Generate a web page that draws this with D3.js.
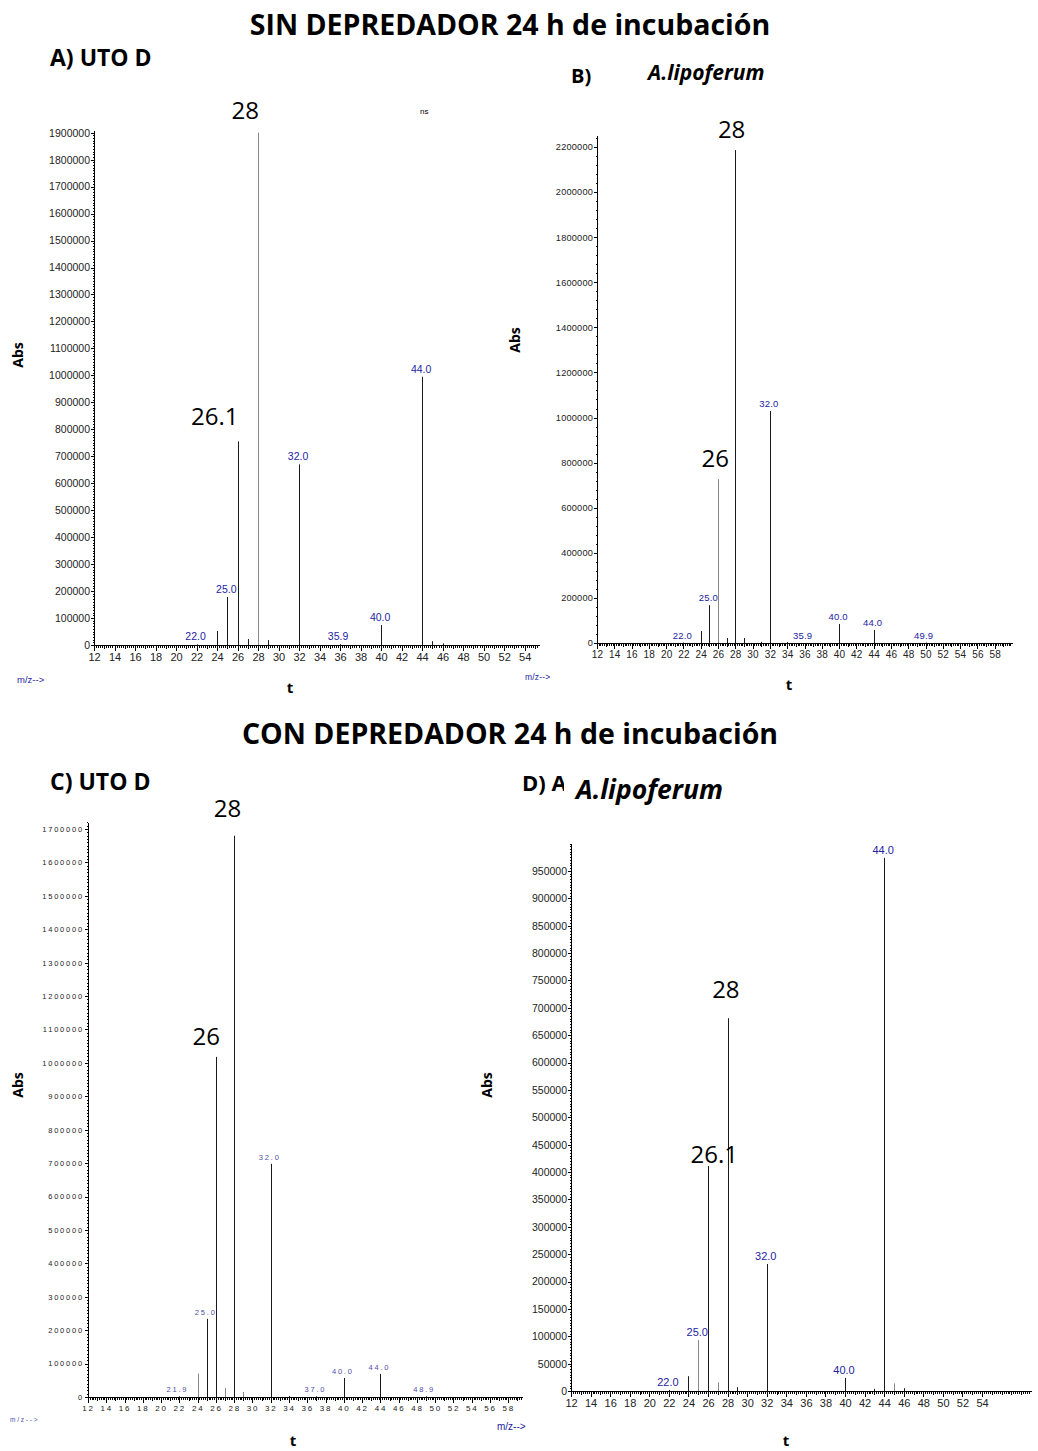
<!DOCTYPE html>
<html lang="es">
<head>
<meta charset="utf-8">
<title>Espectros de masas - 24 h de incubación</title>
<style>
  body { margin: 0; background: #fff; }
  svg { display: block; }
  .hdr { font-family: "Open Sans", sans-serif; font-weight: bold; fill: #000; }
  .big { font-family: "Open Sans", sans-serif; fill: #000; }
  .axis path, .axis line { stroke: #000; shape-rendering: crispEdges; }
</style>
</head>
<body>
<div id="chart"></div>
<script src="https://d3js.org/d3.v7.min.js"></script>
<script>
// ---- data (m/z vs abundance) ----
var mzA  = [22, 24, 25, 26, 27, 28, 29, 32, 36, 40, 44, 45, 46];
var absA = [2000, 52000, 178000, 755000, 22000, 1900000, 18000, 670000, 3000, 74000, 995000, 14000, 6000];
var lblA = ["22.0", "25.0", "32.0", "35.9", "40.0", "44.0"];

var mzB  = [22, 24, 25, 26, 27, 28, 29, 31, 32, 34, 40, 44, 50];
var absB = [2000, 53000, 168000, 727000, 22000, 2186000, 22000, 5000, 1029000, 4000, 84000, 58000, 2000];
var lblB = ["22.0", "25.0", "32.0", "35.9", "40.0", "44.0", "49.9"];

var mzC  = [22, 24, 25, 26, 27, 28, 29, 32, 34, 37, 40, 44, 49];
var absC = [2000, 70000, 234000, 1018000, 27000, 1680000, 15000, 698000, 3000, 2000, 57000, 69000, 2000];
var lblC = ["21.9", "25.0", "32.0", "37.0", "40.0", "44.0", "48.9"];

var mzD  = [22, 24, 25, 26, 27, 28, 29, 32, 40, 43, 44, 45, 46];
var absD = [2000, 27000, 93000, 411000, 16000, 681000, 7000, 232000, 24000, 4000, 974000, 14000, 5000];
var lblD = ["22.0", "25.0", "32.0", "40.0", "44.0"];

var yTicksA = d3.range(0, 1900001, 100000);
var yTicksB = d3.range(0, 2200001, 200000);
var yTicksC = d3.range(0, 1700001, 100000);
var yTicksD = d3.range(0, 950001, 50000);

var W = 1038, H = 1451;
var svg = d3.select("#chart").append("svg").attr("width", W).attr("height", H);

var blue = "#2424a2";
var arial = "Arial, 'Liberation Sans', sans-serif";

var panels = [
  { mz: mzA, ab: absA, lbl: lblA, yTicks: yTicksA, yMinor: 10000,
    xDom: [12, 55.4], xRange: [94, 539], yMax: 1910000, yRange: [645, 130],
    xLast: 54, gray: [28],
    tickFs: 10.5, xFs: 11, lblFs: 10.5, ls: 0, lblColor: blue,
    big: [{ t: "28", mz: 28, dx: 1, dy: -14 }, { t: "26.1", mz: 26, dx: 1, dy: -16 }],
    mzLbl: [17, 683] },
  { mz: mzB, ab: absB, lbl: lblB, yTicks: yTicksB, yMinor: 40000,
    xDom: [12, 60], xRange: [597, 1012], yMax: 2253000, yRange: [643, 135],
    xLast: 58, gray: [26],
    tickFs: 9.2, xFs: 10, lblFs: 9.5, ls: 0.2, lblColor: blue,
    big: [{ t: "28", mz: 28, dx: 10, dy: -12 }, { t: "26", mz: 26, dx: 11, dy: -12 }],
    mzLbl: [525, 680] },
  { mz: mzC, ab: absC, lbl: lblC, yTicks: yTicksC, yMinor: 10000,
    xDom: [12, 59.5], xRange: [88, 522], yMax: 1721000, yRange: [1397, 822],
    xLast: 58, gray: [24, 27, 29],
    tickFs: 7.5, xFs: 8, lblFs: 7.5, ls: 1.8, lblColor: "#4d4daa",
    big: [{ t: "28", mz: 28, dx: 7, dy: -19 }, { t: "26", mz: 26, dx: 4, dy: -12 }],
    mzLbl: [10, 1422] },
  { mz: mzD, ab: absD, lbl: lblD, yTicks: yTicksD, yMinor: 5000,
    xDom: [12, 59], xRange: [571, 1031], yMax: 1001000, yRange: [1391, 843],
    xLast: 54, gray: [25, 27, 45],
    tickFs: 10.5, xFs: 11, lblFs: 11, ls: 0, lblColor: blue,
    big: [{ t: "28", mz: 28, dx: 12, dy: -20 }, { t: "26.1", mz: 26, dx: 30, dy: -3 }],
    mzLbl: [497, 1430] }
];

function drawPanel(p) {
  var g = svg.append("g");
  var x = d3.scaleLinear().domain(p.xDom).range(p.xRange);
  var y = d3.scaleLinear().domain([0, p.yMax]).range(p.yRange);

  // x axis: minor, mid and labelled ticks
  var minor = d3.range(p.xDom[0], p.xDom[1], 0.2).map(function (v) { return Math.round(v * 10) / 10; });
  var mid = d3.range(p.xDom[0], p.xDom[1], 1);
  var major = d3.range(p.xDom[0], p.xLast + 1, 2);
  g.append("g").attr("class", "axis").attr("transform", "translate(0," + p.yRange[0] + ")")
    .call(d3.axisBottom(x).tickValues(minor).tickSize(2.5).tickSizeOuter(0).tickFormat(""));
  g.append("g").attr("class", "axis").attr("transform", "translate(0," + p.yRange[0] + ")")
    .call(d3.axisBottom(x).tickValues(mid).tickSize(4).tickSizeOuter(0).tickFormat(""));
  var xa = g.append("g").attr("class", "axis").attr("transform", "translate(0," + p.yRange[0] + ")")
    .call(d3.axisBottom(x).tickValues(major).tickSize(6).tickSizeOuter(0).tickPadding(2).tickFormat(d3.format("d")));
  xa.selectAll("text").attr("font-family", arial).attr("font-size", p.xFs)
    .attr("fill", "#222").style("letter-spacing", p.ls + "px");

  // y axis
  var yMinorVals = d3.range(0, p.yMax, p.yMinor);
  g.append("g").attr("class", "axis").attr("transform", "translate(" + p.xRange[0] + ",0)")
    .call(d3.axisLeft(y).tickValues(yMinorVals).tickSize(1.5).tickSizeOuter(0).tickFormat(""));
  var ya = g.append("g").attr("class", "axis").attr("transform", "translate(" + p.xRange[0] + ",0)")
    .call(d3.axisLeft(y).tickValues(p.yTicks).tickSize(3).tickSizeOuter(0).tickPadding(1).tickFormat(d3.format("d")));
  ya.selectAll("text").attr("font-family", arial).attr("font-size", p.tickFs)
    .attr("fill", "#222").style("letter-spacing", p.ls + "px");

  // peak bars
  var pts = p.mz.map(function (m, i) { return { mz: m, v: p.ab[i] }; });
  g.selectAll("line.bar").data(pts).enter().append("line")
    .attr("class", "bar")
    .attr("x1", function (d) { return Math.round(x(d.mz)) + 0.5; })
    .attr("x2", function (d) { return Math.round(x(d.mz)) + 0.5; })
    .attr("y1", y(0))
    .attr("y2", function (d) { return y(d.v); })
    .attr("stroke", function (d) { return p.gray.indexOf(d.mz) >= 0 ? "#888" : "#1a1a1a"; })
    .attr("stroke-width", 1);

  // peak m/z labels
  g.selectAll("text.pk").data(p.lbl).enter().append("text")
    .attr("class", "pk")
    .attr("x", function (d) { return x(+d) - 1; })
    .attr("y", function (d) {
      var near = pts.filter(function (q) { return Math.abs(q.mz - +d) < 0.5; });
      var v = near.length ? near[0].v : 0;
      return y(v) - 4;
    })
    .attr("text-anchor", "middle")
    .attr("font-family", arial).attr("font-size", p.lblFs)
    .attr("fill", p.lblColor).style("letter-spacing", p.ls + "px")
    .text(function (d) { return d; });

  // big peak annotations
  g.selectAll("text.big").data(p.big).enter().append("text")
    .attr("class", "big")
    .attr("x", function (d) { return x(d.mz) + d.dx; })
    .attr("y", function (d) {
      var v = p.ab[p.mz.indexOf(d.mz)];
      return y(v) + d.dy;
    })
    .attr("text-anchor", "end")
    .attr("font-size", 24)
    .text(function (d) { return d.t; });

  // m/z--> label
  g.append("text").attr("x", p.mzLbl[0]).attr("y", p.mzLbl[1])
    .attr("font-family", arial).attr("font-size", p.lblFs - 1)
    .attr("fill", p.lblColor).style("letter-spacing", p.ls + "px")
    .text("m/z-->");
}

panels.forEach(drawPanel);

// headers and axis titles
function hdr(txt, x, y, size, anchor, italic) {
  return svg.append("text").attr("class", "hdr").attr("x", x).attr("y", y)
    .attr("font-size", size).attr("text-anchor", anchor || "start")
    .attr("font-style", italic ? "italic" : "normal").text(txt);
}

hdr("SIN DEPREDADOR 24 h de incubación", 510, 35, 28.5, "middle");
hdr("CON DEPREDADOR 24 h de incubación", 510, 744, 28.5, "middle");
hdr("A) UTO D", 50, 66, 23);
hdr("B)", 571, 83, 20);
hdr("A.lipoferum", 648, 80, 21, "start", true);
hdr("C) UTO D", 50, 790, 23);
hdr("D) A", 522, 791, 22);
svg.append("rect").attr("x", 564).attr("y", 768).attr("width", 164).attr("height", 36).attr("fill", "#fff");
hdr("A.lipoferum", 576, 799, 26.5, "start", true);

[[18, 355], [515, 340], [18, 1085], [487, 1085]].forEach(function (a) {
  svg.append("text").attr("class", "hdr").attr("font-size", 14)
    .attr("text-anchor", "middle")
    .attr("transform", "translate(" + (a[0] + 5) + "," + a[1] + ") rotate(-90)")
    .text("Abs");
});
[[290, 693], [789, 690], [293, 1446], [786, 1446]].forEach(function (a) {
  svg.append("text").attr("class", "hdr").attr("font-size", 15)
    .attr("text-anchor", "middle").attr("x", a[0]).attr("y", a[1]).text("t");
});

svg.append("text").attr("x", 420).attr("y", 114).attr("font-family", arial)
  .attr("font-size", 8).attr("fill", "#000").text("ns");
</script>
</body>
</html>
